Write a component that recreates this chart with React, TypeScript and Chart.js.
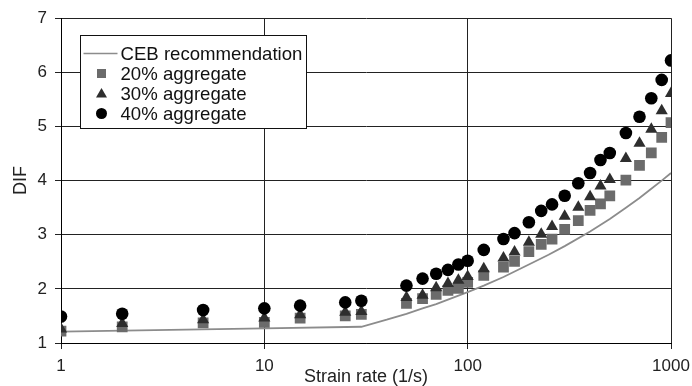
import React, { useEffect, useRef } from "react";
import { Chart, registerables } from "chart.js";

Chart.register(...registerables);

// Measured dynamic increase factor (DIF) against strain rate
const strainRates = [1, 2, 5, 10, 15, 25, 30, 50, 60, 70, 80, 90, 100, 120, 150, 170, 200, 230, 260, 300, 350, 400, 450, 500, 600, 700, 800, 900, 1000];
const agg20 = [1.22, 1.3, 1.37, 1.38, 1.46, 1.5, 1.53, 1.73, 1.82, 1.9, 1.97, 2.01, 2.12, 2.25, 2.4, 2.51, 2.69, 2.82, 2.92, 3.1, 3.26, 3.45, 3.57, 3.72, 4.01, 4.28, 4.51, 4.8, 5.07];
const agg30 = [1.26, 1.36, 1.43, 1.46, 1.52, 1.57, 1.58, 1.84, 1.88, 2.02, 2.1, 2.16, 2.23, 2.37, 2.57, 2.68, 2.86, 3.01, 3.15, 3.34, 3.51, 3.7, 3.9, 4.02, 4.41, 4.69, 4.95, 5.29, 5.61];
const agg40 = [1.49, 1.54, 1.61, 1.64, 1.69, 1.75, 1.78, 2.06, 2.19, 2.28, 2.35, 2.45, 2.52, 2.72, 2.92, 3.03, 3.23, 3.44, 3.56, 3.72, 3.95, 4.14, 4.38, 4.51, 4.88, 5.18, 5.52, 5.86, 6.22];

// CEB recommendation curve
const cebRates = [1, 10, 30, 40, 50, 60, 70, 80, 100, 120, 150, 200, 250, 300, 400, 500, 600, 700, 800, 900, 1000];
const cebDif = [1.21, 1.27, 1.3, 1.43, 1.54, 1.64, 1.72, 1.8, 1.94, 2.06, 2.22, 2.45, 2.63, 2.79, 3.06, 3.29, 3.5, 3.68, 3.85, 4.0, 4.14];

const xTicks = [1, 10, 100, 1000];
const yMin = 1;
const yMax = 7;

const legendLabels = ["CEB recommendation", "20% aggregate", "30% aggregate", "40% aggregate"];

const FONT = "'Liberation Sans', Arial, Helvetica, sans-serif";
const CEB_COLOR = "#8c8c8c";
const SQ_COLOR = "#6b6b6b";
const TRI_COLOR = "#2e2e2e";
const CIRC_COLOR = "#000000";

const toXY = (xs: number[], ys: number[]) => xs.map((x, i) => ({ x, y: ys[i] }));

// Legend box drawn inside the plot, over the grid
const insetLegend = {
  id: "insetLegend",
  afterDraw(chart: any) {
    const { ctx, chartArea } = chart;
    const x0 = Math.round(chartArea.left + 19) + 0.5;
    const y0 = Math.round(chartArea.top + 17) + 0.5;
    const w = 226;
    const h = 93;
    ctx.save();
    ctx.fillStyle = "#ffffff";
    ctx.fillRect(x0, y0, w, h);
    ctx.strokeStyle = "#111111";
    ctx.lineWidth = 1;
    ctx.strokeRect(x0, y0, w, h);

    const rowY = [y0 + 18, y0 + 38, y0 + 58, y0 + 78];
    const mx = x0 + 21;
    const tx = x0 + 40;

    // line sample
    ctx.strokeStyle = CEB_COLOR;
    ctx.lineWidth = 1.5;
    ctx.beginPath();
    ctx.moveTo(x0 + 3, rowY[0]);
    ctx.lineTo(x0 + 37, rowY[0]);
    ctx.stroke();

    // square
    ctx.fillStyle = SQ_COLOR;
    ctx.fillRect(mx - 4.5, rowY[1] - 4.5, 9, 9);

    // triangle
    ctx.fillStyle = TRI_COLOR;
    ctx.beginPath();
    ctx.moveTo(mx, rowY[2] - 5.5);
    ctx.lineTo(mx + 5.5, rowY[2] + 4);
    ctx.lineTo(mx - 5.5, rowY[2] + 4);
    ctx.closePath();
    ctx.fill();

    // circle
    ctx.fillStyle = CIRC_COLOR;
    ctx.beginPath();
    ctx.arc(mx, rowY[3], 5.5, 0, Math.PI * 2);
    ctx.fill();

    ctx.fillStyle = "#111111";
    ctx.font = `18.6px ${FONT}`;
    ctx.textBaseline = "middle";
    ctx.textAlign = "left";
    legendLabels.forEach((label, i) => {
      ctx.fillText(label, tx, rowY[i] + 1);
    });
    ctx.restore();
  },
};

export default function App() {
  const canvasRef = useRef<HTMLCanvasElement | null>(null);

  useEffect(() => {
    if (!canvasRef.current) return;
    const chart = new Chart(canvasRef.current, {
      type: "scatter",
      data: {
        datasets: [
          {
            type: "line",
            label: legendLabels[0],
            data: toXY(cebRates, cebDif),
            borderColor: CEB_COLOR,
            borderWidth: 1.8,
            pointRadius: 0,
            fill: false,
            tension: 0,
            order: 4,
          },
          {
            label: legendLabels[1],
            data: toXY(strainRates, agg20),
            pointStyle: "rect",
            pointRadius: 7.6,
            backgroundColor: SQ_COLOR,
            borderColor: SQ_COLOR,
            borderWidth: 0,
            order: 3,
          },
          {
            label: legendLabels[2],
            data: toXY(strainRates, agg30),
            pointStyle: "triangle",
            pointRadius: 7,
            backgroundColor: TRI_COLOR,
            borderColor: TRI_COLOR,
            borderWidth: 0,
            order: 2,
          },
          {
            label: legendLabels[3],
            data: toXY(strainRates, agg40),
            pointStyle: "circle",
            pointRadius: 6.3,
            backgroundColor: CIRC_COLOR,
            borderColor: CIRC_COLOR,
            borderWidth: 0,
            order: 1,
          },
        ],
      },
      options: {
        responsive: false,
        animation: false,
        devicePixelRatio: 1,
        layout: { padding: { top: 16, right: 21, left: 0, bottom: 0 } },
        plugins: {
          legend: { display: false },
          tooltip: { enabled: false },
        },
        scales: {
          x: {
            type: "logarithmic",
            min: 1,
            max: 1000,
            afterBuildTicks: (scale: any) => {
              scale.ticks = xTicks.map((v) => ({ value: v }));
            },
            afterFit: (scale: any) => {
              scale.height = 43;
              scale.paddingLeft = 0;
              scale.paddingRight = 19;
            },
            ticks: {
              autoSkip: false,
              maxRotation: 0,
              padding: 7,
              color: "#222222",
              font: { family: FONT, size: 17 },
              callback: (v: any) => String(v),
            },
            grid: {
              color: "#222222",
              lineWidth: 1,
              drawTicks: true,
              tickLength: 6,
            },
            border: { display: true, color: "#000000", width: 1 },
            title: {
              display: true,
              text: "Strain rate (1/s)",
              color: "#222222",
              font: { family: FONT, size: 18, lineHeight: 1 },
              padding: { top: 0, bottom: 0 },
            },
          },
          y: {
            type: "linear",
            min: yMin,
            max: yMax,
            afterFit: (scale: any) => {
              scale.width = 61;
            },
            ticks: {
              stepSize: 1,
              padding: 8,
              color: "#222222",
              font: { family: FONT, size: 17 },
            },
            grid: {
              color: "#222222",
              lineWidth: 1,
              drawTicks: true,
              tickLength: 6,
            },
            border: { display: true, color: "#000000", width: 1 },
            title: {
              display: true,
              text: "DIF",
              color: "#222222",
              font: { family: FONT, size: 18 },
              padding: { top: 10, bottom: 0 },
            },
          },
        },
      },
      plugins: [insetLegend],
    });
    return () => chart.destroy();
  }, []);

  return (
    <div style={{ position: "absolute", left: 0, top: 0, width: 692, height: 386, background: "#ffffff" }}>
      <canvas ref={canvasRef} width={692} height={386} />
    </div>
  );
}
